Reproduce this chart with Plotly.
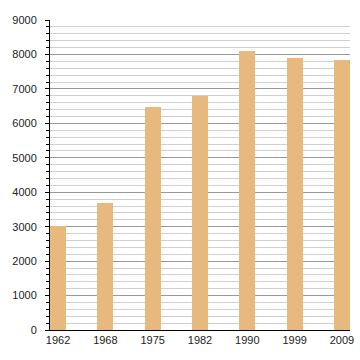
import plotly.graph_objects as go

years = ["1962", "1968", "1975", "1982", "1990", "1999", "2009"]
population = [3030, 3700, 6460, 6800, 8110, 7890, 7850]
y_ticks = [0, 1000, 2000, 3000, 4000, 5000, 6000, 7000, 8000, 9000]

fig = go.Figure(go.Bar(
    x=years, y=population,
    marker=dict(color="#e8b97e", line=dict(width=0)),
    width=0.34,
    hoverinfo="skip",
))

fig.update_layout(
    width=360, height=360,
    margin=dict(l=50, r=10, t=20, b=30, autoexpand=False),
    paper_bgcolor="white", plot_bgcolor="white",
    font=dict(family="Liberation Sans, Arial, sans-serif", size=11, color="#222"),
    showlegend=False,
    bargap=0,
)
fig.update_xaxes(
    type="category", range=[-0.17, 6.17],
    showline=True, linecolor="black", linewidth=1,
    ticks="", showgrid=False, tickfont=dict(size=11),
)
fig.update_yaxes(
    range=[0, 9000], tickvals=y_ticks,
    showline=True, linecolor="black", linewidth=1,
    ticks="outside", ticklen=4, tickcolor="black",
    ticklabelstandoff=6,
    showgrid=True, gridcolor="#999999", gridwidth=1,
    zeroline=False,
    minor=dict(dtick=200, ticks="outside", ticklen=3, tickcolor="black",
               showgrid=True, gridcolor="#d0d0d0", gridwidth=1),
)

fig.write_html("out.html", config={"displayModeBar": False},
               post_script="document.body.style.margin='0';")
